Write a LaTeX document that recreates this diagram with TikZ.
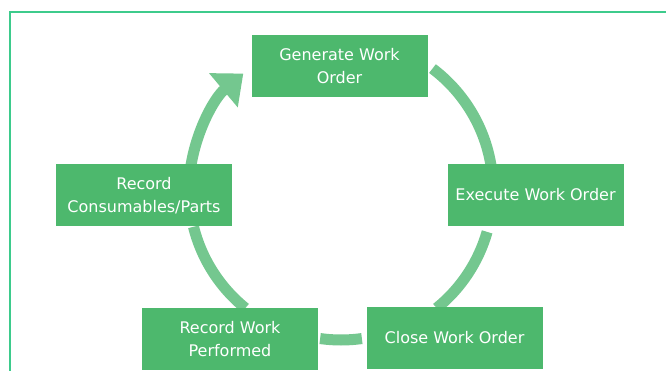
\documentclass[tikz,border=0pt]{standalone}
\usepackage{fontspec}
\setmainfont{DejaVu Sans}
\usetikzlibrary{arrows.meta,calc}
\definecolor{framegreen}{HTML}{3DCB8C}
\definecolor{boxgreen}{HTML}{4DB86D}
\definecolor{arcgreen}{HTML}{74C78F}
\begin{document}
\begin{tikzpicture}[x=1pt,y=-1pt,
  stepbox/.style={fill=boxgreen,draw=none,minimum width=176pt,minimum height=62pt,
    text=white,align=center,inner sep=0pt,font=\fontsize{16}{22.5}\selectfont},
  cycle/.style={draw=arcgreen,line width=11pt}]
\useasboundingbox (0,0) rectangle (666,371);
\fill[white] (0,0) rectangle (666,371);
\draw[framegreen,line width=1.6pt] (10,371) -- (10,12) -- (666,12);
\coordinate (c) at (341,190);
% arcs (behind boxes)
\draw[cycle,-{Triangle[width=43pt,length=26pt]}] ($(c)+(-173:152)$) arc[start angle=-173,end angle=-130,radius=152];
\draw[cycle] ($(c)+(-53:152)$) arc[start angle=-53,end angle=-8,radius=152];
\draw[cycle] ($(c)+(16:152)$) arc[start angle=16,end angle=51,radius=152];
\draw[cycle] ($(c)+(82:150)$) arc[start angle=82,end angle=98,radius=150];
\draw[cycle] ($(c)+(129:152)$) arc[start angle=129,end angle=166,radius=152];
% boxes
\node[stepbox] (gen) at (339.5,66) {Generate Work\\Order};
\node[stepbox] (exe) at (535.5,195) {Execute Work Order};
\node[stepbox] (cons) at (144,195.5) {Record\\Consumables/Parts};
\node[stepbox] (perf) at (230,339) {Record Work\\Performed};
\node[stepbox] (close) at (454.5,338) {Close Work Order};
\end{tikzpicture}
\end{document}
